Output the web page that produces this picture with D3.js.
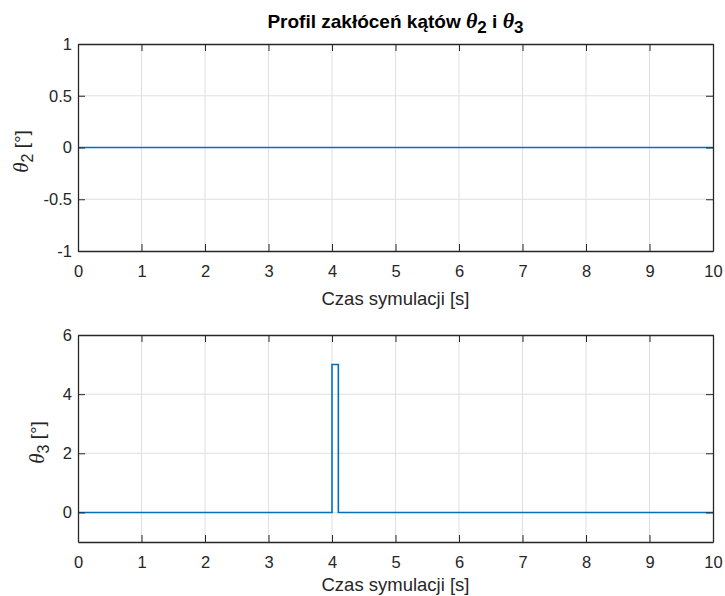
<!DOCTYPE html>
<html>
<head>
<meta charset="utf-8">
<script src="https://cdn.jsdelivr.net/npm/d3@7"></script>
<style>
  body { margin: 0; background: #fff; }
  text { font-family: "Liberation Sans", Arial, sans-serif; fill: #262626; }
</style>
</head>
<body>
<script>
// data
var xTicks = [0, 1, 2, 3, 4, 5, 6, 7, 8, 9, 10];
var theta2Ticks = [-1, -0.5, 0, 0.5, 1];
var theta3Ticks = [0, 2, 4, 6];
// theta2 profile: zero all the time
var theta2T = [0, 10];
var theta2V = [0, 0];
// theta3 profile: step pulse of 5 deg between 4 s and 4.1 s
var theta3T = [0, 4, 4, 4.1, 4.1, 10];
var theta3V = [0, 0, 5, 5, 0, 0];

var W = 725, H = 596;
var axisCol = "#262626";
var gridCol = "#dfdfdf";
var lineCol = "#0072BD";

var svg = d3.select("body").append("svg")
  .attr("width", W)
  .attr("height", H);

// plain number labels, ascii minus like matlab
function fmt(d) { return String(d); }

function drawPanel(opt) {
  var x = d3.scaleLinear().domain([0, 10]).range([78, 713]);
  var y = d3.scaleLinear().domain(opt.yDomain).range([opt.bottom, opt.top]);
  var g = svg.append("g");

  // grid
  g.selectAll(".gx").data(xTicks.slice(1, -1)).enter().append("line")
    .attr("x1", function(d) { return x(d); }).attr("x2", function(d) { return x(d); })
    .attr("y1", opt.top).attr("y2", opt.bottom)
    .attr("stroke", gridCol).attr("stroke-width", 1);
  g.selectAll(".gy").data(opt.yTicks.filter(function(d) { return d > opt.yDomain[0] && d < opt.yDomain[1]; }))
    .enter().append("line")
    .attr("y1", function(d) { return y(d); }).attr("y2", function(d) { return y(d); })
    .attr("x1", 78).attr("x2", 713)
    .attr("stroke", gridCol).attr("stroke-width", 1);

  // data line
  var pts = opt.t.map(function(t, i) { return [t, opt.v[i]]; });
  g.append("path")
    .datum(pts)
    .attr("fill", "none")
    .attr("stroke", lineCol)
    .attr("stroke-width", 1.6)
    .attr("d", d3.line().x(function(d) { return x(d[0]); }).y(function(d) { return y(d[1]); }));

  // axes, ticks inside
  var xAx = d3.axisBottom(x).tickValues(xTicks).tickSizeInner(-7).tickSizeOuter(0)
    .tickPadding(14).tickFormat(fmt);
  var gX = g.append("g").attr("transform", "translate(0," + opt.bottom + ")").call(xAx);
  var gXt = g.append("g").attr("transform", "translate(0," + opt.top + ")")
    .call(d3.axisTop(x).tickValues(xTicks).tickSizeInner(-7).tickSizeOuter(0).tickFormat(""));
  var yAx = d3.axisLeft(y).tickValues(opt.yTicks).tickSizeInner(-7).tickSizeOuter(0)
    .tickPadding(6).tickFormat(fmt);
  var gY = g.append("g").attr("transform", "translate(78,0)").call(yAx);
  var gYr = g.append("g").attr("transform", "translate(713,0)")
    .call(d3.axisRight(y).tickValues(opt.yTicks).tickSizeInner(-7).tickSizeOuter(0).tickFormat(""));

  [gX, gXt, gY, gYr].forEach(function(a) {
    a.select(".domain").attr("stroke", axisCol).attr("stroke-width", 1.3);
    a.selectAll(".tick line").attr("stroke", axisCol).attr("stroke-width", 1);
    a.selectAll(".tick text").attr("fill", axisCol).style("font-size", "16.5px")
      .style("font-family", "Liberation Sans, Arial, sans-serif");
  });

  // x label (kept inside the page at the bottom)
  g.append("text")
    .attr("x", 395.5).attr("y", Math.min(opt.bottom + 54, H - 5))
    .attr("text-anchor", "middle")
    .style("font-size", "18.5px")
    .text("Czas symulacji [s]");

  // y label
  var yl = g.append("text")
    .attr("transform", "translate(" + opt.ylabX + "," + ((opt.top + opt.bottom) / 2 + 4) + ") rotate(-90)")
    .attr("text-anchor", "middle")
    .style("font-size", "19px");
  yl.append("tspan").style("font-family", "Liberation Serif, serif").style("font-style", "italic")
    .style("font-size", "21px").text("θ");
  yl.append("tspan").attr("dy", 5).style("font-size", "16px").text(opt.sub);
  yl.append("tspan").attr("dy", -5).text(" [°]");
}

drawPanel({ top: 44, bottom: 251, yDomain: [-1, 1], yTicks: theta2Ticks,
  t: theta2T, v: theta2V, ylabX: 28, sub: "2" });
drawPanel({ top: 335, bottom: 542, yDomain: [-1, 6], yTicks: theta3Ticks,
  t: theta3T, v: theta3V, ylabX: 44, sub: "3" });

// title
var title = svg.append("text")
  .attr("x", 395.5).attr("y", 28)
  .attr("text-anchor", "middle")
  .style("font-size", "19px")
  .style("font-weight", "bold")
  .style("fill", "#000");
title.append("tspan").text("Profil zakłóceń kątów ");
title.append("tspan").style("font-family", "Liberation Serif, serif").style("font-style", "italic")
  .style("font-size", "22px").text("θ");
title.append("tspan").attr("dy", 5).style("font-size", "17px").text("2");
title.append("tspan").attr("dy", -5).text(" i ");
title.append("tspan").style("font-family", "Liberation Serif, serif").style("font-style", "italic")
  .style("font-size", "22px").text("θ");
title.append("tspan").attr("dy", 5).style("font-size", "17px").text("3");
</script>
</body>
</html>
